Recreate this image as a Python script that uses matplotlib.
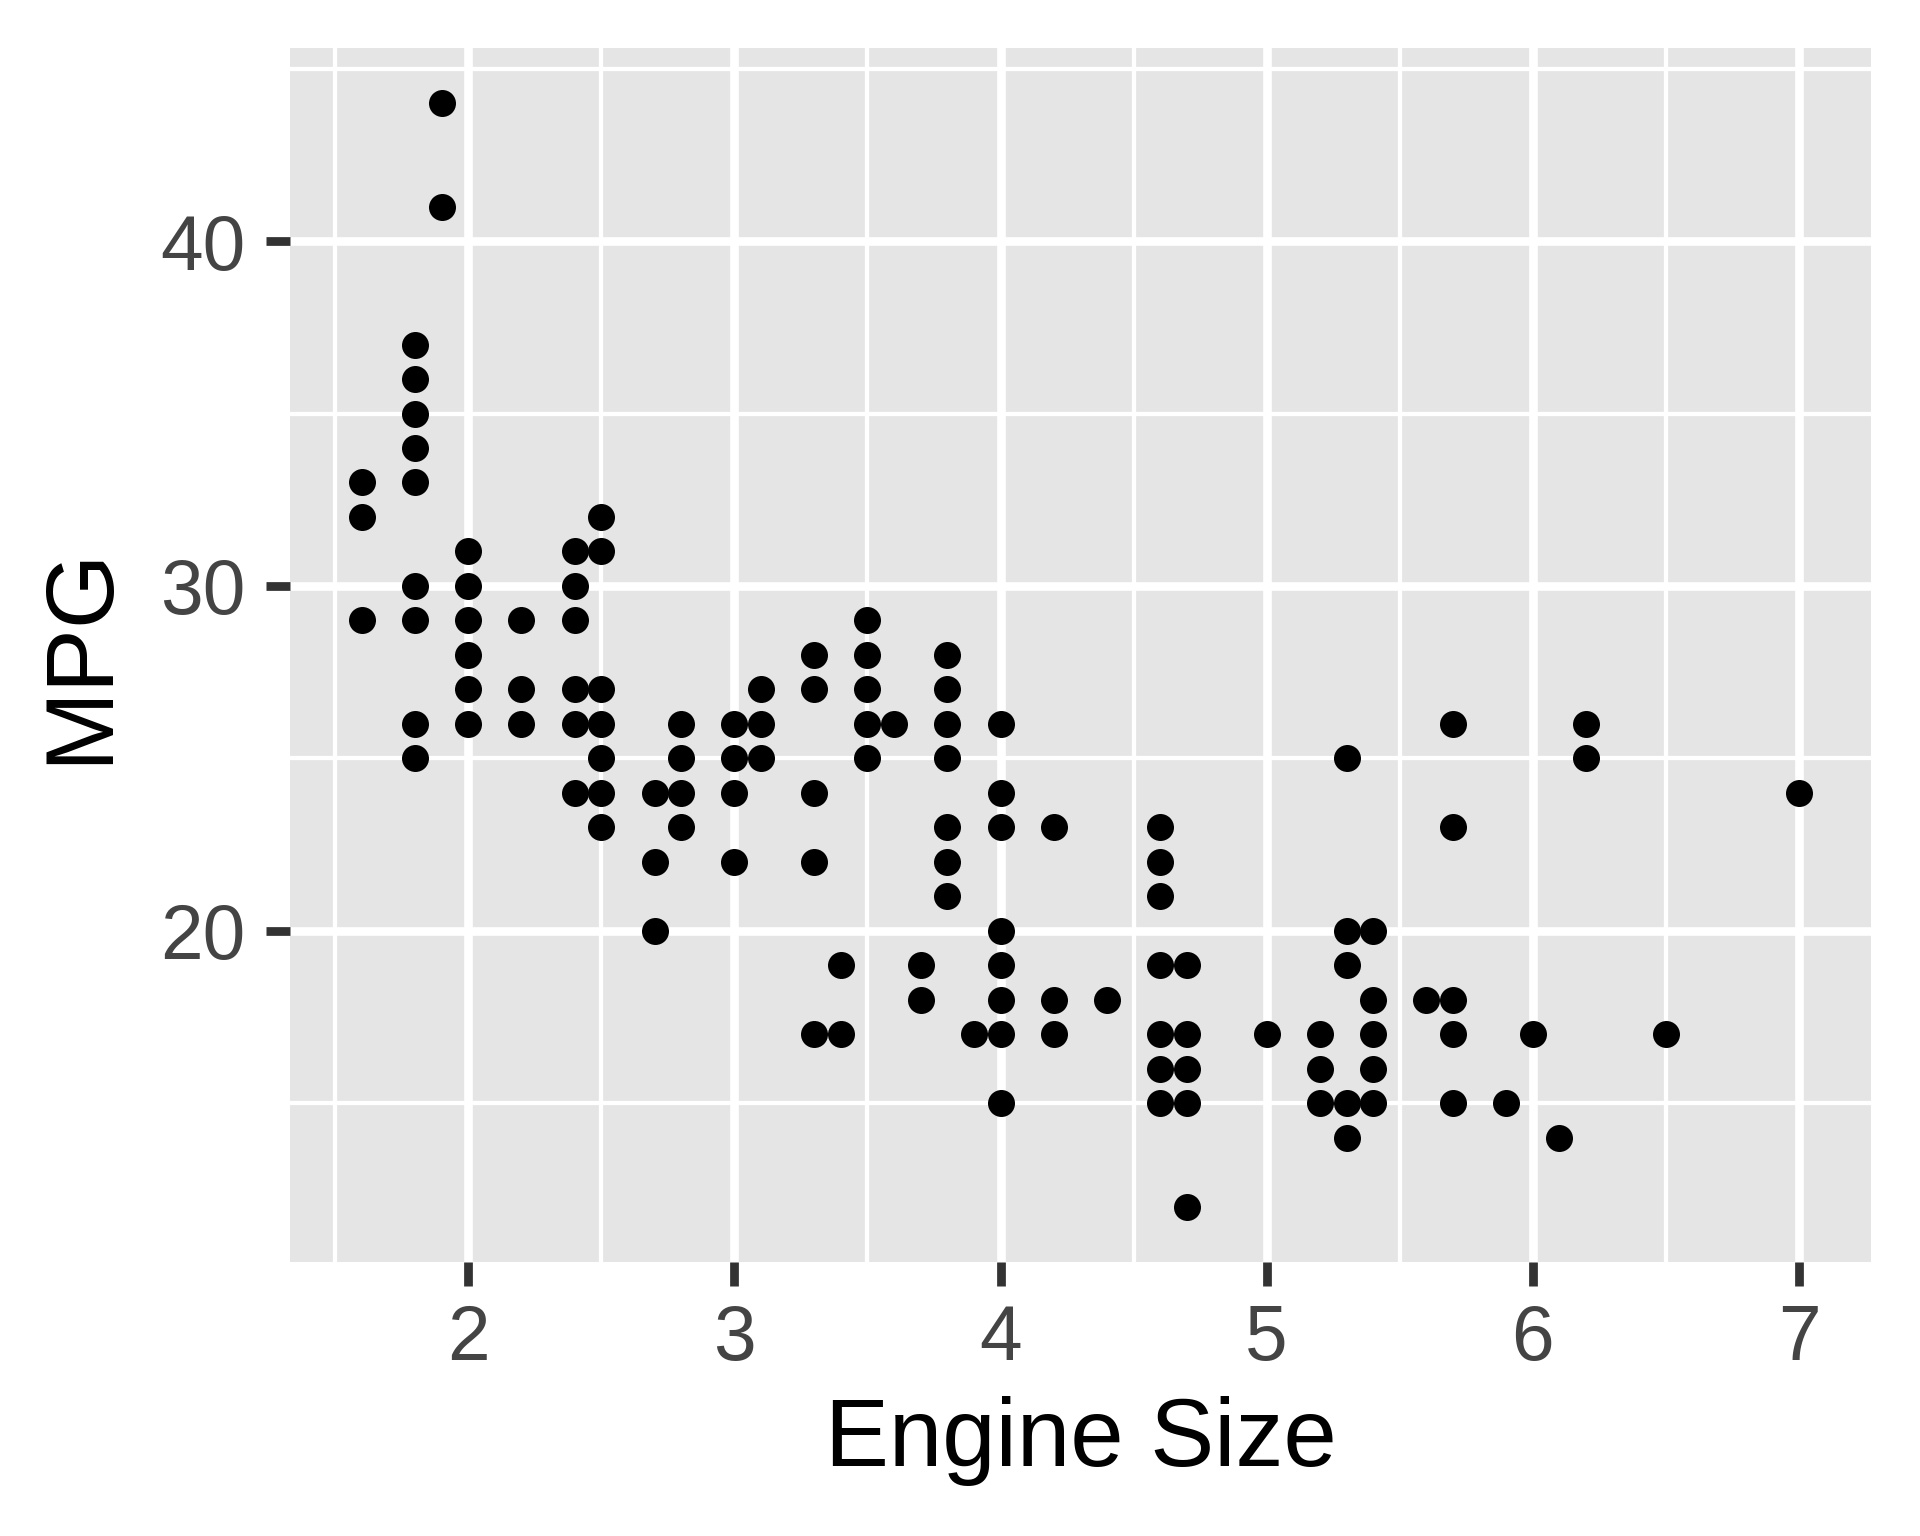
import matplotlib.pyplot as plt
from matplotlib.ticker import MultipleLocator

# engine size (litres) and highway mpg, one entry per distinct point on the chart
displ = [1.6, 1.6, 1.6,
         1.8, 1.8, 1.8, 1.8, 1.8, 1.8, 1.8, 1.8, 1.8,
         1.9, 1.9,
         2.0, 2.0, 2.0, 2.0, 2.0, 2.0,
         2.2, 2.2, 2.2,
         2.4, 2.4, 2.4, 2.4, 2.4, 2.4,
         2.5, 2.5, 2.5, 2.5, 2.5, 2.5, 2.5,
         2.7, 2.7, 2.7,
         2.8, 2.8, 2.8, 2.8,
         3.0, 3.0, 3.0, 3.0,
         3.1, 3.1, 3.1,
         3.3, 3.3, 3.3, 3.3, 3.3,
         3.4, 3.4,
         3.5, 3.5, 3.5, 3.5, 3.5,
         3.6,
         3.7, 3.7,
         3.8, 3.8, 3.8, 3.8, 3.8, 3.8, 3.8,
         3.9,
         4.0, 4.0, 4.0, 4.0, 4.0, 4.0, 4.0, 4.0,
         4.2, 4.2, 4.2,
         4.4,
         4.6, 4.6, 4.6, 4.6, 4.6, 4.6, 4.6,
         4.7, 4.7, 4.7, 4.7, 4.7,
         5.0,
         5.2, 5.2, 5.2,
         5.3, 5.3, 5.3, 5.3, 5.3,
         5.4, 5.4, 5.4, 5.4, 5.4,
         5.6,
         5.7, 5.7, 5.7, 5.7, 5.7,
         5.9,
         6.0,
         6.1,
         6.2, 6.2,
         6.5,
         7.0]
hwy = [33, 32, 29,
       37, 36, 35, 34, 33, 30, 29, 26, 25,
       44, 41,
       31, 30, 29, 28, 27, 26,
       29, 27, 26,
       31, 30, 29, 27, 26, 24,
       32, 31, 27, 26, 25, 24, 23,
       24, 22, 20,
       26, 25, 24, 23,
       26, 25, 24, 22,
       27, 26, 25,
       28, 27, 24, 22, 17,
       19, 17,
       29, 28, 27, 26, 25,
       26,
       19, 18,
       28, 27, 26, 25, 23, 22, 21,
       17,
       26, 24, 23, 20, 19, 18, 17, 15,
       23, 18, 17,
       18,
       23, 22, 21, 19, 17, 16, 15,
       19, 17, 16, 15, 12,
       17,
       17, 16, 15,
       25, 20, 19, 15, 14,
       20, 18, 17, 16, 15,
       18,
       26, 23, 18, 17, 15,
       15,
       17,
       14,
       26, 25,
       17,
       24]

plt.rcParams['font.family'] = ['Liberation Sans', 'DejaVu Sans']

fig = plt.figure(figsize=(6.4, 5.12), dpi=300)
ax = fig.add_axes([0.151, 0.1784, 0.8234, 0.7904])

# ggplot-like grey panel
ax.set_facecolor('#E5E5E5')
for s in ax.spines.values():
    s.set_visible(False)

ax.scatter(displ, hwy, s=42, color='black', linewidths=0, zorder=3)

# 5% expansion like ggplot
xr = max(displ) - min(displ)
yr = max(hwy) - min(hwy)
ax.set_xlim(min(displ) - 0.05 * xr, max(displ) + 0.05 * xr)
ax.set_ylim(min(hwy) - 0.05 * yr, max(hwy) + 0.05 * yr)

ax.xaxis.set_major_locator(MultipleLocator(1))
ax.xaxis.set_minor_locator(MultipleLocator(0.5))
ax.yaxis.set_major_locator(MultipleLocator(10))
ax.yaxis.set_minor_locator(MultipleLocator(5))

ax.grid(which='major', color='white', linewidth=2.07, zorder=0)
ax.grid(which='minor', color='white', linewidth=1.03, zorder=0)
ax.set_axisbelow(True)

ax.tick_params(which='major', length=5.75, width=2.1, color='#333333',
               labelsize=18.4, labelcolor='#444444')
ax.tick_params(axis='y', which='major', pad=5.0)
ax.tick_params(axis='x', which='major', pad=4.0)
ax.tick_params(which='minor', length=0)

ax.set_xlabel('Engine Size', fontsize=23, color='black', labelpad=5)
ax.set_ylabel('MPG', fontsize=23, color='black', labelpad=8)

fig.savefig('out.png', dpi=300, facecolor='white')
